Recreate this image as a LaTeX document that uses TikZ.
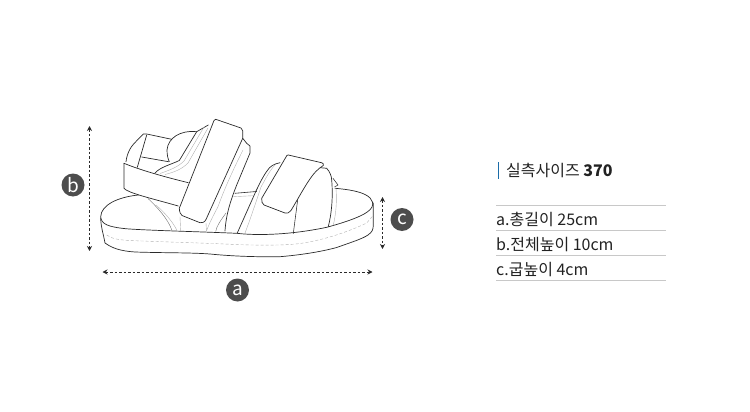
\documentclass[tikz,border=0pt]{standalone}
\usepackage{fontspec}
\setmainfont{Noto Sans CJK KR}
\usetikzlibrary{arrows.meta}
\definecolor{ink}{HTML}{2B2B2B}
\definecolor{soft}{HTML}{B0B0B0}
\definecolor{disc}{HTML}{4D4D4D}
\definecolor{rulec}{HTML}{C8C8C8}
\definecolor{barc}{HTML}{1B6CA8}
\definecolor{txt}{HTML}{222222}
\tikzset{
  outl/.style={draw=ink,line width=0.7pt,line join=round,line cap=round},
  thin gray/.style={draw=soft,line width=0.4pt,line cap=round},
  stitch/.style={draw=soft,line width=0.4pt,dash pattern=on 3pt off 2pt},
  dim/.style={draw=ink,line width=0.8pt,dash pattern=on 2.5pt off 2pt,{Stealth[length=5pt,width=5pt]}-{Stealth[length=5pt,width=5pt]}},
  badge/.style={circle,fill=disc,text=white,minimum size=23pt,inner sep=0pt,font=\fontsize{19}{19}\selectfont},
  spec/.style={anchor=west,inner sep=0pt,text=txt,font=\fontsize{16}{18}\selectfont},
  rowline/.style={draw=rulec,line width=0.8pt}
}
\begin{document}
\begin{tikzpicture}[x=1pt,y=-1pt]
\useasboundingbox (0,0) rectangle (750,412);
% sole
\path[outl] (138.5,195) .. controls (118,197) and (101,205) .. (100.7,216.7)
  .. controls (101,224) and (108,227) .. (126.7,228.8)
  .. controls (150,230.5) and (195,231.5) .. (236.7,233.3)
  .. controls (265,236.5) and (300,233) .. (326.7,227.3)
  .. controls (350,221) and (369,214) .. (372,207)
  .. controls (375,200) and (368,195) .. (360,192.5)
  .. controls (352,190) and (343,189) .. (335,188.3);
\path[outl] (100.7,218) .. controls (101,228) and (103,232) .. (105,243)
  .. controls (112,248) and (120,251) .. (135,252)
  .. controls (165,253) and (190,252.5) .. (210,254)
  .. controls (235,256.5) and (260,257) .. (280,256.7)
  .. controls (300,255) and (320,252) .. (336.7,247.5)
  .. controls (352,242) and (362,239) .. (368,235)
  .. controls (372,232) and (373.3,230) .. (373.3,225)
  -- (373.3,203);
\path[stitch] (106.7,235) .. controls (112,239) and (120,240) .. (130,240.5)
  .. controls (165,242) and (205,243) .. (235,244.5)
  .. controls (260,245.5) and (285,245.5) .. (300,243.5)
  .. controls (325,240) and (350,231) .. (366.7,223)
  -- (372.7,216);
% heel counter lines
\path[thin gray,draw=ink!70] (148,198.5) .. controls (158,208) and (168,219) .. (172,230.5);
\path[thin gray] (156,205) .. controls (165,213) and (173,222) .. (177,230.5);
\path[thin gray] (180,216.7) -- (180.7,231);
\path[thin gray] (206,223) -- (206.5,231.5);
% back loop
\path[outl] (126,161.7) .. controls (127,153) and (131,146) .. (136,141.5)
  -- (143.3,134) -- (146.7,134) -- (171.7,139.3);
\path[outl] (146.7,135) -- (137.3,167.3);
\path[outl] (141.7,157) -- (168.5,161.7);
% heel pad
\path[outl] (196.7,131.7) .. controls (180,130) and (168,138) .. (167,150)
  .. controls (167,155) and (168,159) .. (169.3,161.7);
% strap inner band
\path[outl] (154.5,173.5) .. controls (160,167) and (170,165) .. (179.3,160.5) -- (196.7,131.7) -- (208.3,125) ;
\path[thin gray] (160,173.5) .. controls (170,170) and (178,167) .. (184,161) -- (204,127);
\path[thin gray] (165,174.5) .. controls (175,172) and (182,169) .. (188,163) -- (208,128);
% heel strap band
\path[outl] (124,163.3) -- (124,188.3) .. controls (128,193) and (150,198) .. (178.3,206);
\path[outl] (124,163.3) .. controls (140,170) and (165,177) .. (188.3,182.7);
% upright straps
\path[outl] (242.7,138.3) -- (246.7,143.3) -- (250,146) -- (250,153) -- (236.7,185)
  .. controls (230,202) and (226,215) .. (225,231);
\path[thin gray] (243,150) .. controls (232,172) and (224,190) .. (218,206.7) .. controls (213,216) and (209,224) .. (206.5,231);
\path[thin gray,draw=ink!70] (226,213) .. controls (221,220) and (216.5,226) .. (215.7,231.5);
% big velcro
\path[outl,fill=white] (215.7,119.3) -- (241,128) .. controls (243,129) and (243,131) .. (242.7,138.3)
  -- (206,219.5) .. controls (204.5,222.5) and (202,223) .. (200,222.7)
  -- (182,215.5) .. controls (180.5,214.5) and (179.5,212) .. (179.3,208.3) -- (214,120.5) -- cycle;
% connector between straps
\path[outl,line width=0.6pt] (235,193.3) -- (256.5,191.5);
\path[thin gray] (233.5,196.7) -- (253,195.7);
% front strap
\path[outl] (280,162.7) .. controls (274,164) and (270,166) .. (267,171)
  .. controls (262,178) and (260,183) .. (256,191) -- (237.3,233);
\path[thin gray] (275,165) .. controls (270,170) and (266,178) .. (261,187)
  .. controls (255,205) and (250,220) .. (245,233);
\path[outl] (318,167.5) -- (326.7,168.3) .. controls (330,172) and (331.5,176) .. (331.7,180)
  .. controls (333,195) and (332,212) .. (328.3,226.7);
\path[outl,line width=0.55pt] (333,178.3) -- (338,185) -- (334.5,187);
\path[thin gray] (336,188) .. controls (337,202) and (336,214) .. (333.3,225);
\path[outl,line width=0.55pt] (298.3,195) -- (293.3,233.5);
\path[outl,fill=white] (288.3,155) -- (321.5,162.7) .. controls (323,163) and (324,164) .. (323.3,165.5)
  .. controls (312,172) and (305,187) .. (291,210.5) .. controls (289.5,213) and (287,213.5) .. (285,213)
  -- (264,205) .. controls (262,204) and (261.5,201) .. (261.7,198.3)
  -- (286,157) .. controls (286.5,155.5) and (287,155) .. (288.3,155) -- cycle;
% anchors for dimension arrows
\coordinate (bTop) at (89.5,126);
\coordinate (bEnd) at (89.5,251);
\coordinate (aL) at (102.5,272);
\coordinate (aR) at (372.5,272);
\coordinate (cTop) at (382.5,197);
\coordinate (cEnd) at (382.5,249);
\draw[dim] (bTop) -- (bEnd);
\draw[dim] (aL) -- (aR);
\draw[dim] (cTop) -- (cEnd);
\node[badge] (ba) at (237.5,290) {a};
\node[badge] (bb) at (73,185) {b};
\node[badge] (bc) at (402,219.5) {c};
% spec
\coordinate (barT) at (498,162);
\coordinate (barB) at (498,179);
\draw[barc,line width=1pt] (barT) -- (barB);
\node[spec] (title) at (506,170) {실측사이즈 \textbf{370}};
\coordinate (r1a) at (496,205.5); \coordinate (r1b) at (666,205.5);
\coordinate (r2a) at (496,230.5); \coordinate (r2b) at (666,230.5);
\coordinate (r3a) at (496,255.5); \coordinate (r3b) at (666,255.5);
\coordinate (r4a) at (496,280.5); \coordinate (r4b) at (666,280.5);
\draw[rowline] (r1a) -- (r1b);
\draw[rowline] (r2a) -- (r2b);
\draw[rowline] (r3a) -- (r3b);
\draw[rowline] (r4a) -- (r4b);
\node[spec] (sa) at (496,219.5) {a.총길이 25cm};
\node[spec] (sb) at (496,244.5) {b.전체높이 10cm};
\node[spec] (sc) at (496,269.5) {c.굽높이 4cm};
\end{tikzpicture}
\end{document}
